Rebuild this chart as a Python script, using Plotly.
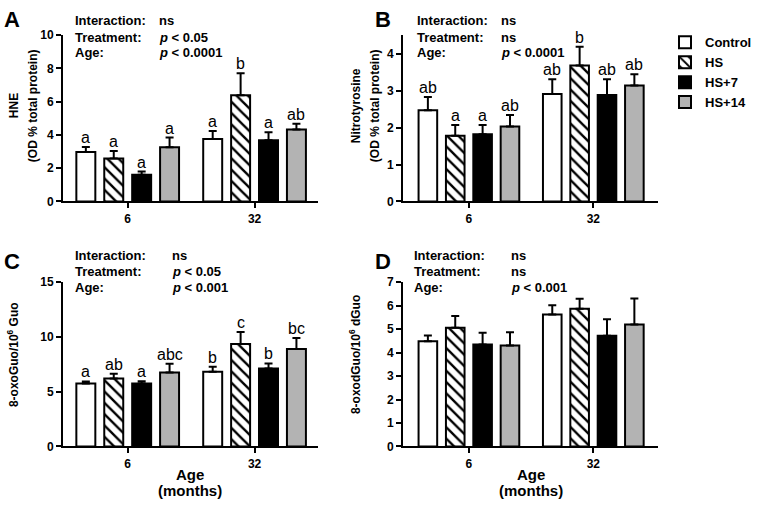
import plotly.graph_objects as go

# ---------------- data ----------------
age_labels = ["6", "32"]
series_names = ["Control", "HS", "HS+7", "HS+14"]

# each inner list: [6 months, 32 months]
hne_values = [[2.97, 3.75], [2.58, 6.39], [1.60, 3.68], [3.26, 4.33]]
hne_errors = [[0.30, 0.49], [0.45, 1.32], [0.20, 0.48], [0.58, 0.35]]
hne_letters = [["a", "a"], ["a", "b"], ["a", "a"], ["a", "ab"]]

nitro_values = [[2.47, 2.91], [1.78, 3.68], [1.82, 2.88], [2.03, 3.14]]
nitro_errors = [[0.36, 0.40], [0.29, 0.51], [0.25, 0.43], [0.31, 0.30]]
nitro_letters = [["ab", "ab"], ["a", "b"], ["a", "ab"], ["ab", "ab"]]

oxoguo_values = [[5.74, 6.83], [6.20, 9.35], [5.74, 7.13], [6.75, 8.90]]
oxoguo_errors = [[0.20, 0.45], [0.45, 1.10], [0.22, 0.45], [0.80, 1.00]]
oxoguo_letters = [["a", "b"], ["ab", "c"], ["a", "b"], ["abc", "bc"]]

oxodguo_values = [[4.48, 5.62], [5.06, 5.87], [4.35, 4.72], [4.30, 5.20]]
oxodguo_errors = [[0.25, 0.40], [0.50, 0.42], [0.50, 0.70], [0.57, 1.10]]

stats_labels = ["Interaction:", "Treatment:", "Age:"]
stats_A = ["ns", "<i>p</i> &lt; 0.05", "<i>p</i> &lt; 0.0001"]
stats_B = ["ns", "ns", "<i>p</i> &lt; 0.0001"]
stats_C = ["ns", "<i>p</i> &lt; 0.05", "<i>p</i> &lt; 0.001"]
stats_D = ["ns", "ns", "<i>p</i> &lt; 0.001"]

# ---------------- styling ----------------
W, H = 757, 506
FONT = "Arial, 'Liberation Sans', Helvetica, sans-serif"
BARGAP = 0.12
GROUPGAP = 0.32

fills = ["white", "white", "black", "#b3b3b3"]
patterns = [None, dict(shape="\\", fgcolor="black", bgcolor="white", size=8,
                       solidity=0.3, fillmode="replace"), None, None]


def px(x):
    return x / W


def py(y):
    return 1 - y / H


panels = [
    dict(letter="A", n="", values=hne_values, errors=hne_errors, letters=hne_letters,
         ymax=10, dtick=2, xdom=(63, 318), ydom=(200, 29), xr=(-0.51, 1.5),
         stats=stats_A, lab_x=73, val_x=157, rows=(14, 31, 47), pl=(12, 13),
         ytitle=[("HNE", 14), ("(OD % total protein)", 33)], ytitle_y=102, ytsize=12,
         xtitle=False),
    dict(letter="B", n="2", values=nitro_values, errors=nitro_errors, letters=nitro_letters,
         ymax=4.5, dtick=1, xdom=(403, 658), ydom=(200, 29), xr=(-0.53, 1.52),
         stats=stats_B, lab_x=415, val_x=499, rows=(14, 31, 47), pl=(383, 13),
         ytitle=[("Nitrotyrosine", 356), ("(OD % total protein)", 375)], ytitle_y=102, ytsize=12,
         xtitle=False),
    dict(letter="C", n="3", values=oxoguo_values, errors=oxoguo_errors, letters=oxoguo_letters,
         ymax=15, dtick=5, xdom=(63, 318), ydom=(452, 283), xr=(-0.51, 1.5),
         stats=stats_C, lab_x=73, val_x=170, rows=(256, 272, 288), pl=(12, 262),
         ytitle=[("8-oxoGuo/10<sup>6</sup> Guo", 13)], ytitle_y=358, ytsize=12,
         xtitle=True),
    dict(letter="D", n="4", values=oxodguo_values, errors=oxodguo_errors, letters=None,
         ymax=7, dtick=1, xdom=(403, 658), ydom=(452, 283), xr=(-0.53, 1.52),
         stats=stats_D, lab_x=412, val_x=509, rows=(256, 272, 288), pl=(383, 262),
         ytitle=[("8-oxodGuo/10<sup>6</sup> dGuo", 355)], ytitle_y=358, ytsize=12,
         xtitle=True),
]

fig = go.Figure()
annotations = []
layout_axes = {}

slot = (1 - BARGAP) / len(series_names)
offsets = [-(1 - BARGAP) / 2 + slot * (i + 0.5) for i in range(len(series_names))]

for p_i, p in enumerate(panels):
    xa = "x" + p["n"]
    ya = "y" + p["n"]
    for s_i, name in enumerate(series_names):
        marker = dict(color=fills[s_i], line=dict(color="black", width=2))
        if patterns[s_i] is not None:
            marker["pattern"] = patterns[s_i]
        fig.add_trace(go.Bar(
            x=[0, 1], y=p["values"][s_i], name=name, xaxis=xa, yaxis=ya,
            marker=marker, legendgroup=name, showlegend=(p_i == 0),
            error_y=dict(type="data", symmetric=False, array=p["errors"][s_i],
                         arrayminus=[0, 0], color="black", thickness=2, width=4),
        ))
        if p["letters"] is not None:
            for g in range(2):
                annotations.append(dict(
                    x=g + offsets[s_i], y=p["values"][s_i][g] + p["errors"][s_i][g],
                    xref=xa, yref=ya, text=p["letters"][s_i][g], showarrow=False,
                    yanchor="bottom", xanchor="center", yshift=-1,
                    font=dict(family=FONT, size=16, color="black")))

    axis_common = dict(showline=True, linecolor="black", linewidth=2, ticks="outside",
                       ticklen=5, tickwidth=2, tickcolor="black", showgrid=False,
                       zeroline=False, fixedrange=True,
                       tickfont=dict(family=FONT, size=12, color="black", weight="bold"))
    layout_axes["xaxis" + p["n"]] = dict(
        axis_common, domain=[px(p["xdom"][0]), px(p["xdom"][1])], range=list(p["xr"]),
        tickvals=[0, 1], ticktext=age_labels, anchor=ya)
    layout_axes["yaxis" + p["n"]] = dict(
        axis_common, domain=[py(p["ydom"][0]), py(p["ydom"][1])], range=[0, p["ymax"]],
        dtick=p["dtick"], tick0=0, anchor=xa)

    bold = dict(family=FONT, size=13, color="black", weight="bold")
    for r, lab, val in zip(p["rows"], stats_labels, p["stats"]):
        annotations.append(dict(x=px(p["lab_x"]), y=py(r), xref="paper", yref="paper",
                                text=lab, showarrow=False, xanchor="left", yanchor="middle",
                                font=bold))
        annotations.append(dict(x=px(p["val_x"]), y=py(r), xref="paper", yref="paper",
                                text=val, showarrow=False, xanchor="left", yanchor="middle",
                                font=bold))
    annotations.append(dict(x=px(p["pl"][0]), y=py(p["pl"][1]), xref="paper", yref="paper",
                            text=p["letter"], showarrow=False, xanchor="center",
                            yanchor="middle",
                            font=dict(family=FONT, size=22, color="black", weight="bold")))
    for txt, xx in p["ytitle"]:
        annotations.append(dict(x=px(xx), y=py(p["ytitle_y"]), xref="paper", yref="paper",
                                text=txt, textangle=-90, showarrow=False,
                                xanchor="center", yanchor="middle",
                                font=dict(family=FONT, size=p["ytsize"], color="black",
                                          weight="bold")))
    if p["xtitle"]:
        cx = (p["xdom"][0] + p["xdom"][1]) / 2
        annotations.append(dict(x=px(cx), y=py(481), xref="paper", yref="paper",
                                text="Age", showarrow=False, xanchor="center",
                                yanchor="middle",
                                font=dict(family=FONT, size=15, color="black", weight="bold")))
        annotations.append(dict(x=px(cx), y=py(497), xref="paper", yref="paper",
                                text="(months)", showarrow=False, xanchor="center",
                                yanchor="middle",
                                font=dict(family=FONT, size=15, color="black", weight="bold")))

fig.update_layout(
    width=W, height=H, margin=dict(l=0, r=0, t=0, b=0),
    paper_bgcolor="white", plot_bgcolor="white",
    barmode="group", bargap=BARGAP, bargroupgap=GROUPGAP,
    showlegend=True,
    legend=dict(x=1, y=py(21), xanchor="right", yanchor="top",
                font=dict(family=FONT, size=13, color="black", weight="bold"),
                bgcolor="rgba(0,0,0,0)", tracegroupgap=0, itemwidth=30),
    annotations=annotations,
    **layout_axes,
)

fig.write_html("out.html",
               config={"displayModeBar": False},
               post_script="document.body.style.margin='0px';"
                           "document.body.style.overflow='hidden';")
